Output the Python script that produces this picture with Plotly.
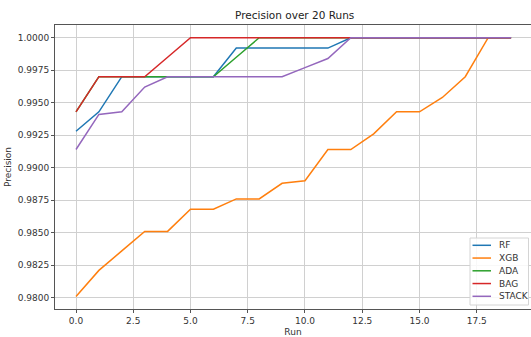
import plotly.graph_objects as go

# Precision per run for each model (20 runs)
runs = list(range(20))
rf = [0.9928, 0.9943, 0.9970, 0.9970, 0.9970, 0.9970, 0.9970, 0.9992, 0.9992, 0.9992,
      0.9992, 0.9992, 1.0, 1.0, 1.0, 1.0, 1.0, 1.0, 1.0, 1.0]
xgb = [0.9801, 0.9821, 0.9836, 0.9851, 0.9851, 0.9868, 0.9868, 0.9876, 0.9876, 0.9888,
       0.9890, 0.9914, 0.9914, 0.9926, 0.9943, 0.9943, 0.9954, 0.9970, 1.0, 1.0]
ada = [0.9943, 0.9970, 0.9970, 0.9970, 0.9970, 0.9970, 0.9970, 0.9985, 1.0, 1.0,
       1.0, 1.0, 1.0, 1.0, 1.0, 1.0, 1.0, 1.0, 1.0, 1.0]
bag = [0.9943, 0.9970, 0.9970, 0.9970, 0.9985, 1.0, 1.0, 1.0, 1.0, 1.0,
       1.0, 1.0, 1.0, 1.0, 1.0, 1.0, 1.0, 1.0, 1.0, 1.0]
stack = [0.9914, 0.9941, 0.9943, 0.9962, 0.9970, 0.9970, 0.9970, 0.9970, 0.9970, 0.9970,
         0.9977, 0.9984, 1.0, 1.0, 1.0, 1.0, 1.0, 1.0, 1.0, 1.0]

series = [("RF", rf, "#1f77b4"), ("XGB", xgb, "#ff7f0e"), ("ADA", ada, "#2ca02c"),
          ("BAG", bag, "#d62728"), ("STACK", stack, "#9467bd")]

x_ticks = [0, 2.5, 5, 7.5, 10, 12.5, 15, 17.5]
y_ticks = [0.98, 0.9825, 0.985, 0.9875, 0.99, 0.9925, 0.995, 0.9975, 1.0]

W, H = 531, 337
M_L, M_R, M_T, M_B = 55, 0, 25, 28
PW, PH = W - M_L - M_R, H - M_T - M_B


def px_x(px):
    return (px - M_L) / PW


def px_y(px):
    return 1 - (px - M_T) / PH


fig = go.Figure()
for name, vals, color in series:
    fig.add_trace(go.Scatter(x=runs, y=vals, mode="lines", name=name,
                             line=dict(color=color, width=1.5), showlegend=False))

# Compact legend box in the lower-right corner
shapes = [dict(type="rect", xref="paper", yref="paper",
               x0=px_x(470), x1=px_x(528.5), y0=px_y(305), y1=px_y(238),
               line=dict(color="#d4d4d4", width=1), fillcolor="rgba(255,255,255,0.85)")]
annotations = []
row_y0, row_step = 245.3, 12.75
for i, (name, _, color) in enumerate(series):
    yy = px_y(row_y0 + i * row_step)
    shapes.append(dict(type="line", xref="paper", yref="paper",
                       x0=px_x(472.5), x1=px_x(491), y0=yy, y1=yy,
                       line=dict(color=color, width=1.5)))
    annotations.append(dict(text=name, xref="paper", yref="paper", x=px_x(496.5), y=yy,
                            xanchor="left", yanchor="middle", showarrow=False,
                            font=dict(family="DejaVu Sans", size=9, color="#333333")))

font = dict(family="DejaVu Sans", size=9, color="#333333")
fig.update_layout(
    width=W, height=H,
    margin=dict(l=M_L, r=M_R, t=M_T, b=M_B),
    paper_bgcolor="white", plot_bgcolor="white",
    font=font,
    title=dict(text="Precision over 20 Runs", x=0.555, xanchor="center",
               y=1 - 15 / H, yanchor="middle", yref="container",
               font=dict(family="DejaVu Sans", size=10.5, color="#222222")),
    shapes=shapes,
    annotations=annotations,
)
fig.update_xaxes(
    range=[-0.917, 19.87], tickvals=x_ticks, tickformat=".1f",
    showgrid=True, gridcolor="#d0d0d0", gridwidth=1, zeroline=False,
    showline=True, linecolor="#555555", linewidth=1, mirror=True,
    ticks="outside", ticklen=3, tickcolor="#555555",
    title=dict(text="Run", standoff=3, font=dict(family="DejaVu Sans", size=9)),
)
fig.update_yaxes(
    range=[0.97913, 1.000977], tickvals=y_ticks, tickformat=".4f",
    showgrid=True, gridcolor="#d0d0d0", gridwidth=1, zeroline=False,
    showline=True, linecolor="#555555", linewidth=1, mirror=False,
    ticks="outside", ticklen=3, tickcolor="#555555",
    title=dict(text="Precision", standoff=4, font=dict(family="DejaVu Sans", size=9)),
)

fig.write_html("out.html")
